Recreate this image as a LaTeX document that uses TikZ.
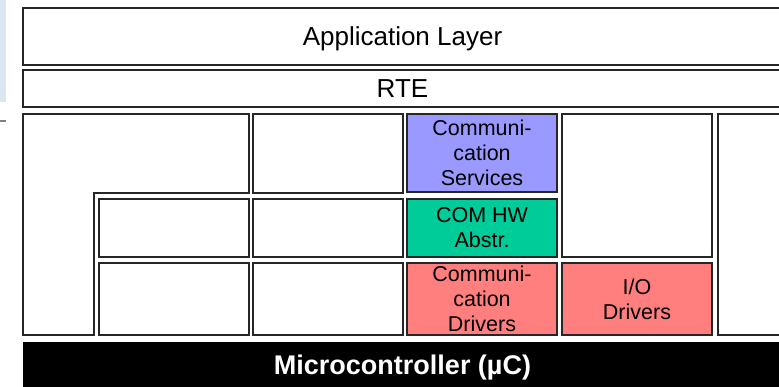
\documentclass[tikz,border=0pt]{standalone}
\usepackage{fontspec}
\setmainfont{Liberation Sans}
\definecolor{bsw-ServicesColor}{HTML}{9999FF}
\definecolor{bsw-HwAbstrColor}{HTML}{00CC99}
\definecolor{bsw-DriversColor}{HTML}{FF7F7F}
\definecolor{bsw-StripColor}{HTML}{DCE6F1}
\tikzstyle{bsw-module-base}=[rectangle,
                               draw=black!85,
                               line width=1.2pt,
                               text centered,
                               align=center,
                               inner sep=0pt,
                               fill=white,
                              ]
\tikzstyle{bsw-module}=[bsw-module-base,
                        minimum width=150pt,
                        font=\fontsize{21.5}{25}\selectfont]
\tikzstyle{bsw-services}=[bsw-module, fill={bsw-ServicesColor}]
\tikzstyle{bsw-hwabstr}=[bsw-module, fill={bsw-HwAbstrColor}]
\tikzstyle{bsw-drivers}=[bsw-module, fill={bsw-DriversColor}]
\tikzstyle{bsw-layer}=[bsw-module-base,
                       minimum width=759pt,
                       text depth=0pt,
                       font=\fontsize{26}{31}\selectfont]
\tikzstyle{bsw-mcu}=[rectangle, fill=black, text=white,
                     minimum width=759pt, minimum height=46pt,
                     text depth=0pt,
                     font=\fontsize{27}{32}\selectfont\bfseries]

\begin{document}
\begin{tikzpicture}[x=1pt, y=-1pt]
    \useasboundingbox (0,0) rectangle (779,386);
    \clip (0,0) rectangle (779,386);

    % Slide border remains
    % --------------------------------------------------------------------------
    \fill[bsw-StripColor] (0,0) rectangle (6,102);
    \draw[gray, line width=2pt] (0,121) -- (6,121);

    % Layers
    % --------------------------------------------------------------------------
    \node at (402.5,  36.5) (app) [bsw-layer, minimum height=57pt] {Application Layer};
    \node at (402.5,  88.5) (rte) [bsw-layer, minimum height=37pt] {RTE};

    % ------------------------------------------------------------------------
    \draw[draw=black!85, line width=1.2pt, fill=white]
        (23,114) -- (249,114) -- (249,193) -- (94,193) -- (94,335) -- (23,335) -- cycle;

    \node at (174, 228)   (ecu_abstr_1) [bsw-module, minimum height=58pt] {};
    \node at (174, 299)   (mcal_1)      [bsw-module, minimum height=72pt] {};

    \node at (328, 153.5) (services_2)  [bsw-module, minimum height=79pt] {};
    \node at (328, 228)   (ecu_abstr_2) [bsw-module, minimum height=58pt] {};
    \node at (328, 299)   (mcal_2)      [bsw-module, minimum height=72pt] {};

    % ------------------------------------------------------------------------
    \node at (482, 153)   (com_services) [bsw-services, minimum height=78pt] {Communi-\\cation\\Services};
    \node at (482, 228)   (com_hw_abstr) [bsw-hwabstr,  minimum height=58pt] {COM HW\\Abstr.};
    \node at (482, 299)   (com_drivers)  [bsw-drivers,  minimum height=72pt] {Communi-\\cation\\Drivers};

    \node at (637, 185.5) (io_abstr)     [bsw-module,   minimum height=143pt] {};
    \node at (637, 299)   (io_drivers)   [bsw-drivers,  minimum height=72pt] {I/O\\Drivers};

    \node at (793, 224.5) (cdd)          [bsw-module,   minimum height=221pt] {};

    % ------------------------------------------------------------------------
    \node at (402.5, 365) (mcu) [bsw-mcu] {Microcontroller (µC)};

\end{tikzpicture}
\end{document}
